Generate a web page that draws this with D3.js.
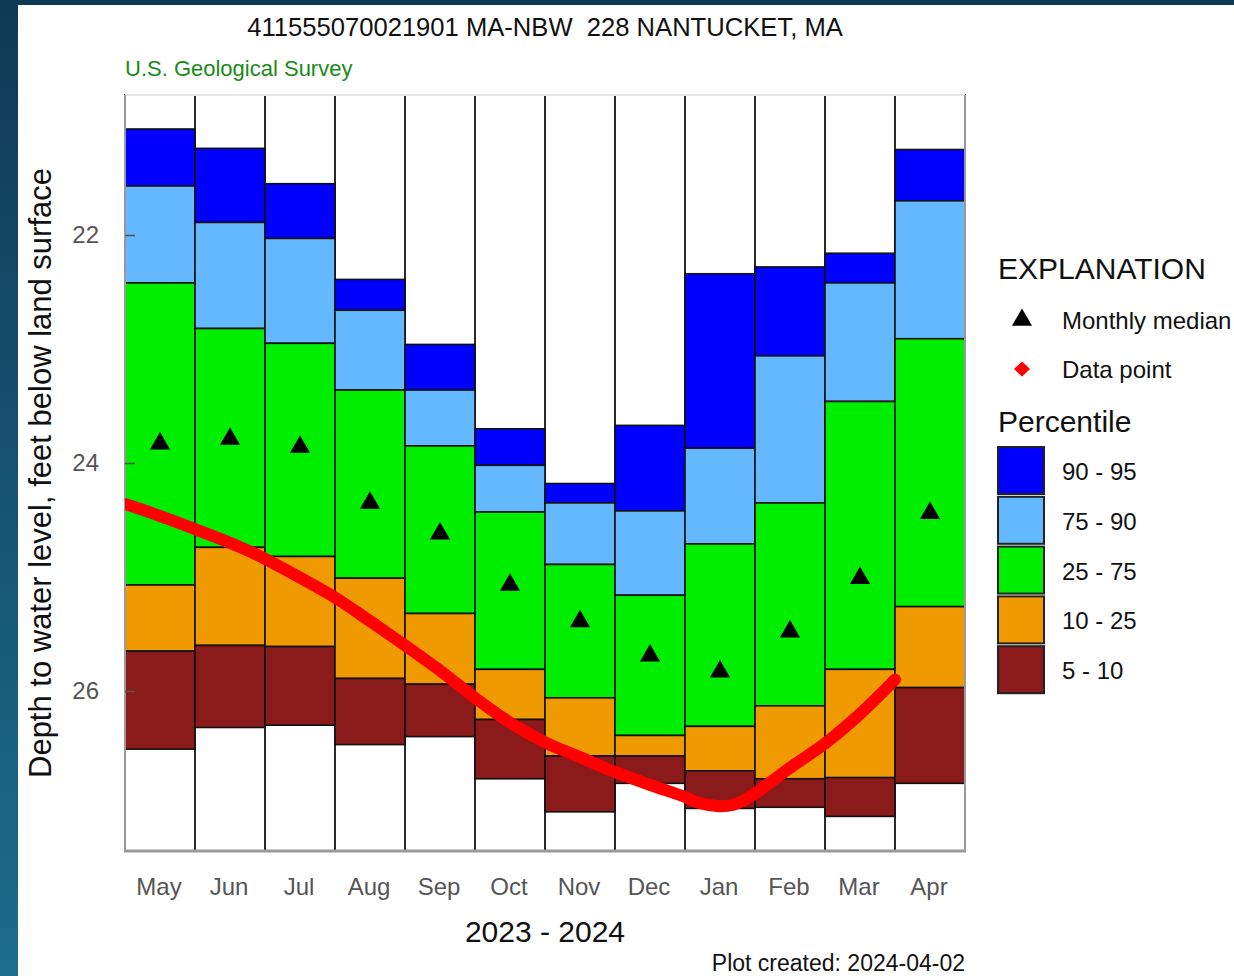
<!DOCTYPE html>
<html>
<head>
<meta charset="utf-8">
<script src="https://cdn.jsdelivr.net/npm/d3@7"></script>
<style>
  html, body { margin: 0; padding: 0; background: #fff; }
  svg { display: block; font-family: "Liberation Sans", Arial, Helvetica, sans-serif; }
</style>
</head>
<body>
<svg id="chart" width="1234" height="976"></svg>
<script>
// ---------------- DATA ----------------
const months = ["May","Jun","Jul","Aug","Sep","Oct","Nov","Dec","Jan","Feb","Mar","Apr"];
// percentile depths (feet below land surface)
const p95 = [21.07, 21.24, 21.55, 22.39, 22.96, 23.70, 24.18, 23.67, 22.34, 22.28, 22.16, 21.25];
const p90 = [21.57, 21.89, 22.03, 22.66, 23.36, 24.02, 24.35, 24.42, 23.87, 23.06, 22.42, 21.70];
const p75 = [22.42, 22.82, 22.95, 23.36, 23.85, 24.43, 24.89, 25.16, 24.71, 24.35, 23.46, 22.91];
const p25 = [25.07, 24.74, 24.82, 25.01, 25.32, 25.81, 26.06, 26.39, 26.31, 26.13, 25.81, 25.26];
const p10 = [25.65, 25.60, 25.61, 25.89, 25.94, 26.25, 26.57, 26.57, 26.70, 26.77, 26.76, 25.97];
const p05 = [26.51, 26.32, 26.30, 26.47, 26.40, 26.77, 27.06, 26.81, 27.03, 27.02, 27.10, 26.81];
const medians = [23.83, 23.79, 23.86, 24.35, 24.62, 25.07, 25.39, 25.69, 25.83, 25.48, 25.01, 24.44];

// daily data (at sample dates)
const lineDates = ["2023-05-01","2023-05-13","2023-06-01","2023-06-16","2023-07-01","2023-07-16",
  "2023-08-01","2023-08-16","2023-09-01","2023-09-16","2023-10-01","2023-10-16","2023-11-01",
  "2023-11-16","2023-12-01","2023-12-16","2024-01-01","2024-01-07","2024-01-16","2024-01-22",
  "2024-01-27","2024-02-01","2024-02-15","2024-03-01","2024-03-16","2024-03-26","2024-04-01"];
const lineDepths = [24.36, 24.44, 24.58, 24.70, 24.84, 25.00, 25.18, 25.38, 25.60, 25.82, 26.06,
  26.27, 26.45, 26.58, 26.71, 26.82, 26.93, 26.98, 27.01, 27.00, 26.96, 26.90, 26.68, 26.46,
  26.21, 26.02, 25.90];

const yTicks = [22, 24, 26];
const bandLabels = ["90 - 95","75 - 90","25 - 75","10 - 25","5 - 10"];
const bandColors = ["#0000FF","#63B8FF","#00EE00","#EE9A00","#8B1A1A"];

const titleText = "411555070021901 MA-NBW  228 NANTUCKET, MA";
const agencyText = "U.S. Geological Survey";
const yTitle = "Depth to water level, feet below land surface";
const xTitle = "2023 - 2024";
const createdText = "Plot created: 2024-04-02";

// ---------------- LAYOUT ----------------
const W = 1234, H = 976;
const L = 125, R = 965, T = 95, B = 851;

const svg = d3.select("#chart");

// background frame
const defs = svg.append("defs");
const grad = defs.append("linearGradient").attr("id","bg").attr("x1",0).attr("y1",0).attr("x2",0).attr("y2",1);
grad.append("stop").attr("offset","0%").attr("stop-color","#0f3a55");
grad.append("stop").attr("offset","100%").attr("stop-color","#1c6d8e");
svg.append("rect").attr("width",W).attr("height",H).attr("fill","url(#bg)");
svg.append("rect").attr("x",18).attr("y",5).attr("width",W-18).attr("height",H-5).attr("fill","#fff");

const x = d3.scaleBand().domain(months).range([L, R]).padding(0);
const y = d3.scaleLinear().domain([22 - 140/114, 26 + 160/114]).range([T, B]);
const xPos = d3.scaleLinear().domain([0, 12]).range([L, R]);

const clip = defs.append("clipPath").attr("id","plotclip");
clip.append("rect").attr("x",L).attr("y",T).attr("width",R-L).attr("height",B-T);

// full-height column frames
svg.append("g").selectAll("rect").data(months).join("rect")
  .attr("x", d => x(d)).attr("y", T)
  .attr("width", x.bandwidth()).attr("height", B - T)
  .attr("fill", "#fff").attr("stroke", "#2a2a2a").attr("stroke-width", 2);

// percentile bands
const bandsData = [];
months.forEach((m, i) => {
  const edges = [p95[i], p90[i], p75[i], p25[i], p10[i], p05[i]];
  for (let k = 0; k < 5; k++) {
    bandsData.push({m, k, top: edges[k], bot: edges[k+1]});
  }
});
svg.append("g").selectAll("rect").data(bandsData).join("rect")
  .attr("x", d => x(d.m)).attr("y", d => y(d.top))
  .attr("width", x.bandwidth()).attr("height", d => y(d.bot) - y(d.top))
  .attr("fill", d => bandColors[d.k]).attr("stroke", "#111").attr("stroke-width", 1.6);

// plot frame
const frame = svg.append("g");
frame.append("line").attr("x1",L).attr("x2",R).attr("y1",T).attr("y2",T).attr("stroke","#e6e6e6").attr("stroke-width",2);
frame.append("line").attr("x1",L).attr("x2",L).attr("y1",T).attr("y2",B).attr("stroke","#9a9a9a").attr("stroke-width",2);
frame.append("line").attr("x1",R).attr("x2",R).attr("y1",T).attr("y2",B).attr("stroke","#9a9a9a").attr("stroke-width",2);
frame.append("line").attr("x1",L-1).attr("x2",R+1).attr("y1",B).attr("y2",B).attr("stroke","#9a9a9a").attr("stroke-width",3);

// medians
const tri = d3.symbol().type(d3.symbolTriangle).size(175);
svg.append("g").selectAll("path").data(months).join("path")
  .attr("d", tri)
  .attr("transform", (d, i) => `translate(${x(d) + x.bandwidth()/2},${y(medians[i])})`)
  .attr("fill", "#000");

// data line
const parse = d3.timeParse("%Y-%m-%d");
const start = new Date(2023, 4, 1);
function monthPos(d) {
  const m0 = d3.timeMonth.floor(d);
  const m1 = d3.timeMonth.offset(m0, 1);
  const idx = d3.timeMonth.count(start, m0);
  return idx + (d - m0) / (m1 - m0);
}
const lineData = lineDates.map((s, i) => ({pos: monthPos(parse(s)), v: lineDepths[i]}));
svg.append("path").datum(lineData)
  .attr("clip-path","url(#plotclip)")
  .attr("d", d3.line().x(d => xPos(d.pos)).y(d => y(d.v)).curve(d3.curveCatmullRom.alpha(0.5)))
  .attr("fill","none").attr("stroke","#ff0000").attr("stroke-width",12)
  .attr("stroke-linecap","round").attr("stroke-linejoin","round");

// y axis
const yAxis = d3.axisLeft(y).tickValues(yTicks).tickSizeInner(-10).tickSizeOuter(0).tickPadding(26)
  .tickFormat(d3.format("d"));
const gy = svg.append("g").attr("transform", `translate(${L},0)`).call(yAxis);
gy.select(".domain").remove();
gy.selectAll(".tick line").attr("stroke","#555").attr("stroke-width",1.5);
gy.selectAll(".tick text").attr("fill","#555").style("font-size","24px")
  .style("font-family","'Liberation Sans', Arial, sans-serif");

// x labels
svg.append("g").selectAll("text").data(months).join("text")
  .attr("x", d => x(d) + x.bandwidth()/2 - 1).attr("y", 895)
  .attr("text-anchor","middle").attr("fill","#555").style("font-size","24px")
  .text(d => d);

// titles
svg.append("text").attr("x",545).attr("y",36).attr("text-anchor","middle")
  .attr("fill","#111").style("font-size","25.6px").style("white-space","pre")
  .attr("xml:space","preserve").text(titleText);
svg.append("text").attr("x",125).attr("y",76).attr("fill","#1a8a1a").style("font-size","22px").text(agencyText);
svg.append("text").attr("transform","translate(51,473) rotate(-90)").attr("text-anchor","middle")
  .attr("fill","#111").style("font-size","31px").text(yTitle);
svg.append("text").attr("x",545).attr("y",942).attr("text-anchor","middle")
  .attr("fill","#111").style("font-size","30px").text(xTitle);
svg.append("text").attr("x",965).attr("y",971).attr("text-anchor","end")
  .attr("fill","#111").style("font-size","23px").text(createdText);

// legend
const lg = svg.append("g");
lg.append("text").attr("x",998).attr("y",279).attr("fill","#111").style("font-size","30px").text("EXPLANATION");
lg.append("path").attr("d", d3.symbol().type(d3.symbolTriangle).size(175)).attr("transform","translate(1022,320)").attr("fill","#000");
lg.append("text").attr("x",1062).attr("y",329).attr("fill","#111").style("font-size","24px").text("Monthly median");
lg.append("path").attr("d","M0,-7.5L8,0L0,7.5L-8,0Z").attr("transform","translate(1022,369)").attr("fill","#ff0000");
lg.append("text").attr("x",1062).attr("y",378).attr("fill","#111").style("font-size","24px").text("Data point");
lg.append("text").attr("x",998).attr("y",432).attr("fill","#111").style("font-size","30px").text("Percentile");
const items = lg.selectAll("g.item").data(bandLabels).join("g").attr("class","item")
  .attr("transform", (d, i) => `translate(998,${447 + i*49.8})`);
items.append("rect").attr("width",46).attr("height",47)
  .attr("fill", (d, i) => bandColors[i]).attr("stroke","#222").attr("stroke-width",2);
items.append("text").attr("x",64).attr("y",23.5 + 9.5).attr("fill","#111").style("font-size","24px").text(d => d);
</script>
</body>
</html>
